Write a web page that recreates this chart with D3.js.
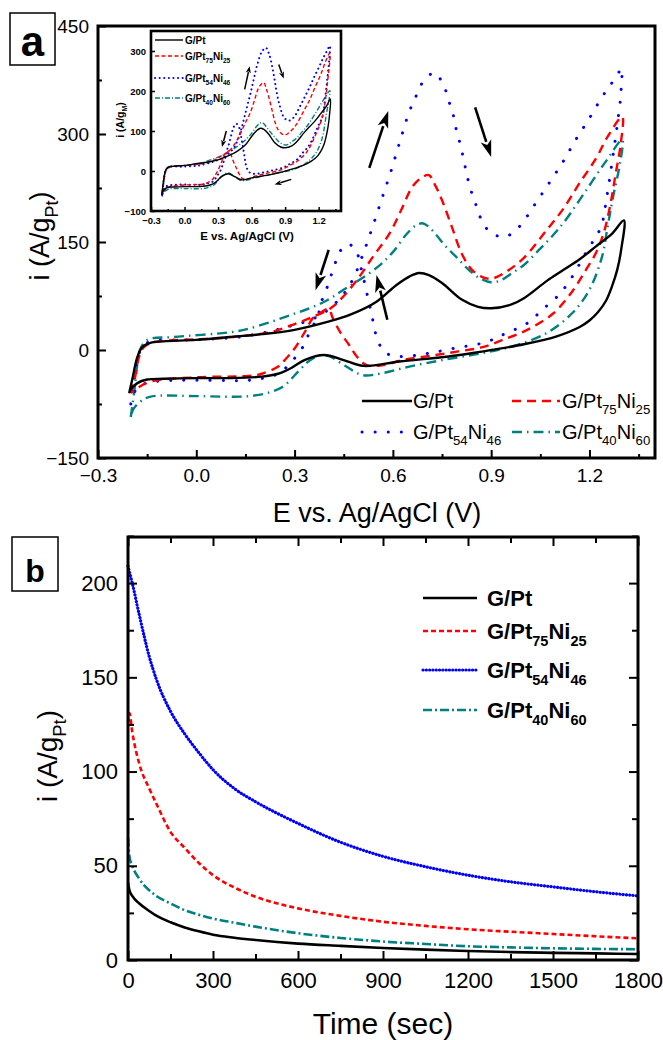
<!DOCTYPE html>
<html>
<head>
<meta charset="utf-8">
<script src="https://cdn.jsdelivr.net/npm/d3@7"></script>
<style>
  body { margin: 0; background: #fff; }
  svg text { font-family: "Liberation Sans", Arial, sans-serif; fill: #000; }
</style>
</head>
<body>
<svg id="fig" width="663" height="1040"></svg>
<script>
// ---------- data: panel a, cyclic voltammograms (E in V, i in A/g_Pt) ----------
// each array = forward scan followed by the reverse scan
const cvPt = [[-0.205,-60],[-0.195,-40],[-0.18,-10],[-0.165,4],[-0.14,10],[-0.1,12],[0,14],[0.1,18],[0.2,22],[0.3,28],[0.4,39],[0.47,49],[0.55,67],[0.61,90],[0.65,102],[0.68,107],[0.71,104],[0.75,93],[0.81,70],[0.86,60],[0.9,58],[0.96,63],[1.0,72],[1.07,96],[1.12,111],[1.17,126],[1.22,144],[1.27,162],[1.305,180],
  [1.297,140],[1.285,112],[1.27,90],[1.25,68],[1.225,52],[1.2,41],[1.17,32],[1.1,19],[1.0,8],[0.9,0],[0.86,-3],[0.77,-9],[0.62,-16],[0.51,-22],[0.45,-14],[0.39,-7],[0.33,-14],[0.29,-25],[0.25,-33],[0.2,-37],[0.1,-39],[0,-39],[-0.1,-40],[-0.15,-41],[-0.18,-46],[-0.2,-55],[-0.205,-60]];
const cvPt75 = [[-0.2,-60],[-0.19,-45],[-0.175,-10],[-0.16,4],[-0.13,11],[-0.09,13],[0,15],[0.06,16],[0.15,20],[0.23,25],[0.3,36],[0.35,45],[0.41,58],[0.45,75],[0.49,97],[0.54,130],[0.59,162],[0.625,194],[0.66,227],[0.69,240],[0.71,243],[0.73,228],[0.75,208],[0.78,171],[0.81,134],[0.84,112],[0.87,102],[0.9,99],[0.94,107],[1.0,128],[1.07,167],[1.12,196],[1.17,232],[1.22,266],[1.255,296],[1.3,324],
  [1.295,285],[1.28,245],[1.265,205],[1.245,165],[1.22,135],[1.19,112],[1.15,83],[1.09,51],[1.01,28],[0.935,14],[0.874,4],[0.8,-2],[0.73,-7],[0.63,-14],[0.57,-21],[0.52,-21],[0.49,-9],[0.465,8],[0.44,24],[0.415,46],[0.405,57],[0.38,52],[0.355,44],[0.335,28],[0.3,2],[0.27,-14],[0.25,-23],[0.2,-33],[0.16,-36],[0,-38],[-0.14,-44],[-0.19,-56],[-0.2,-60]];
const cvPt54 = [[-0.2,-75],[-0.19,-40],[-0.175,-5],[-0.16,6],[-0.14,12],[-0.03,14],[0.13,18],[0.245,28],[0.3,35],[0.35,42],[0.4,55],[0.45,78],[0.48,100],[0.508,132],[0.538,171],[0.567,211],[0.596,251],[0.623,292],[0.65,331],[0.669,351],[0.69,371],[0.727,385],[0.757,365],[0.772,344],[0.785,325],[0.794,305],[0.806,285],[0.816,265],[0.825,245],[0.836,225],[0.851,205],[0.866,185],[0.894,165],[0.94,157],[0.985,171],[1.03,200],[1.077,232],[1.12,262],[1.158,292],[1.2,322],[1.238,351],[1.27,372],[1.3,391],
  [1.298,375],[1.295,351],[1.284,310],[1.27,264],[1.253,213],[1.235,171],[1.19,136],[1.138,95],[1.101,74],[1.056,56],[1.016,39],[0.97,28],[0.924,19],[0.885,11],[0.794,3],[0.702,-5],[0.62,-9],[0.575,-3],[0.55,19],[0.535,50],[0.52,80],[0.505,110],[0.49,135],[0.465,147],[0.44,138],[0.42,115],[0.4,88],[0.382,67],[0.37,46],[0.346,25],[0.325,4],[0.295,-14],[0.254,-32],[0.215,-38],[0.16,-42],[-0.05,-42],[-0.142,-45],[-0.18,-52],[-0.2,-75]];
const cvPt40 = [[-0.2,-93],[-0.19,-60],[-0.18,-20],[-0.172,0],[-0.15,14],[-0.07,18],[0.11,25],[0.163,30],[0.285,48],[0.386,66],[0.458,86],[0.55,114],[0.6,136],[0.64,160],[0.67,173],[0.69,176],[0.71,171],[0.732,160],[0.763,143],[0.794,129],[0.83,112],[0.864,100],[0.9,94],[0.93,97],[0.964,107],[1.0,118],[1.046,139],[1.09,160],[1.128,181],[1.19,222],[1.25,262],[1.3,292],
  [1.295,264],[1.27,208],[1.255,170],[1.238,129],[1.199,83],[1.147,51],[1.067,23],[0.964,5],[0.864,-5],[0.751,-14],[0.65,-23],[0.57,-32],[0.508,-35],[0.458,-23],[0.407,-9],[0.38,-7],[0.345,-15],[0.315,-28],[0.264,-51],[0.214,-60],[0.163,-64],[0.111,-65],[0,-64],[-0.142,-65],[-0.172,-72],[-0.193,-83],[-0.2,-93]];

// inset: same scans normalised per gram of metal (A/g_M); G/Pt is unchanged
const insPt75 = [[-0.2,-55],[-0.175,-9],[-0.16,4],[-0.13,10],[0,14],[0.15,18],[0.23,23],[0.3,33],[0.35,41],[0.41,53],[0.45,68],[0.49,88],[0.54,118],[0.59,147],[0.625,176],[0.66,206],[0.69,218],[0.71,221],[0.73,207],[0.75,189],[0.78,156],[0.81,122],[0.84,102],[0.87,93],[0.9,90],[0.94,97],[1.0,116],[1.07,152],[1.12,178],[1.17,211],[1.22,242],[1.255,269],[1.3,295],
  [1.28,223],[1.265,187],[1.245,150],[1.22,123],[1.19,102],[1.15,76],[1.09,46],[1.01,25],[0.935,13],[0.874,4],[0.8,-2],[0.73,-6],[0.63,-13],[0.57,-19],[0.52,-19],[0.49,-8],[0.465,7],[0.44,22],[0.415,42],[0.405,52],[0.38,47],[0.355,40],[0.335,25],[0.3,2],[0.27,-13],[0.25,-21],[0.2,-30],[0.16,-33],[0,-35],[-0.14,-40],[-0.19,-51],[-0.2,-55]];
const insPt54 = [[-0.2,-60],[-0.175,-4],[-0.16,5],[-0.14,10],[0,11],[0.13,14],[0.245,22],[0.3,28],[0.35,34],[0.4,44],[0.45,62],[0.48,80],[0.508,105],[0.538,137],[0.567,169],[0.596,201],[0.623,234],[0.65,265],[0.69,297],[0.727,308],[0.757,292],[0.785,260],[0.806,228],[0.825,196],[0.851,164],[0.894,132],[0.94,126],[0.985,137],[1.03,160],[1.077,186],[1.12,210],[1.158,234],[1.2,258],[1.238,281],[1.27,298],[1.3,313],
  [1.295,281],[1.284,248],[1.27,211],[1.253,170],[1.235,137],[1.19,109],[1.138,76],[1.101,59],[1.056,45],[1.016,31],[0.97,22],[0.924,15],[0.885,9],[0.794,2],[0.702,-4],[0.62,-7],[0.575,-2],[0.55,15],[0.535,40],[0.52,64],[0.505,88],[0.49,108],[0.465,118],[0.44,110],[0.42,92],[0.4,70],[0.382,54],[0.37,37],[0.346,20],[0.325,3],[0.295,-11],[0.254,-26],[0.215,-30],[0.16,-34],[-0.05,-34],[-0.142,-36],[-0.18,-42],[-0.2,-60]];
const insPt40 = [[-0.2,-64],[-0.18,-14],[-0.172,0],[-0.15,10],[-0.07,12],[0.11,17],[0.163,21],[0.285,33],[0.386,46],[0.458,59],[0.55,79],[0.6,94],[0.64,110],[0.67,119],[0.69,121],[0.71,118],[0.732,110],[0.763,99],[0.794,89],[0.83,77],[0.864,69],[0.9,65],[0.93,67],[0.964,74],[1.0,81],[1.046,96],[1.09,110],[1.128,125],[1.19,153],[1.25,181],[1.3,201],
  [1.295,182],[1.27,144],[1.255,117],[1.238,89],[1.199,57],[1.147,35],[1.067,16],[0.964,3],[0.864,-3],[0.751,-10],[0.65,-16],[0.57,-22],[0.508,-24],[0.458,-16],[0.407,-6],[0.38,-5],[0.345,-10],[0.315,-19],[0.264,-35],[0.214,-41],[0.163,-44],[0,-44],[-0.142,-45],[-0.172,-50],[-0.193,-57],[-0.2,-64]];

// scan-direction arrows [E1, i1, E2, i2] (tail -> head)
const cvArrows  = [[0.528,253,0.586,332],[0.851,337,0.9,268],[0.404,139,0.364,83],[0.583,42,0.55,104]];
const insArrows = [[0.538,204,0.583,262],[0.843,266,0.888,231],[0.374,100,0.335,60],[0.955,-21,0.806,-34]];

// ---------- data: panel b, chronoamperometry ----------
const timeSec = [0,5,15,40,75,100,150,200,250,300,375,450,600,750,900,1050,1200,1350,1500,1650,1800];
const caPt   = [41,37,34,30,26,23.5,20,17.3,15.2,13.4,11.8,10.6,8.7,7.5,6.4,5.5,4.8,4.2,3.8,3.5,3.2];
const caPt75 = [126,131,121,104,91,83,68,59.5,51.5,45,38.5,33.6,27.4,23.4,20.3,18.1,16.3,15,13.8,12.6,11.5];
const caPt54 = [209,206,200,183,161,149,132,120,110,101,91,84,72.5,62.5,55,49.5,45,41.5,38.8,36.2,34];
const caPt40 = [65,55,50,43,37,34,30,26.5,24,22,19.8,17.7,14.2,11.7,9.8,8.5,7.3,6.7,6.2,5.9,5.7];

// ---------- labels / ticks ----------
const seriesLabels = ['G/Pt', 'G/Pt{75}Ni{25}', 'G/Pt{54}Ni{46}', 'G/Pt{40}Ni{60}'];
const seriesColors = ['#000000', '#ff0000', '#0000ff', '#008080'];
const aYMajor = [-150, 0, 150, 300, 450];
const aYMinor = [-75, 75, 225, 375];
const aXMajor = [-0.3, 0, 0.3, 0.6, 0.9, 1.2];
const aXMinor = [-0.15, 0.15, 0.45, 0.75, 1.05, 1.35];
const insYMajor = [-100, 0, 100, 200, 300];
const insXMajor = [-0.3, 0, 0.3, 0.6, 0.9, 1.2];
const insXMinor = [-0.15, 0.15, 0.45, 0.75, 1.05, 1.35];
const bYMajor = [0, 50, 100, 150, 200];
const bYMinor = [25, 75, 125, 175, 225];
const bXMajor = [0, 300, 600, 900, 1200, 1500, 1800];
const bXMinor = [150, 450, 750, 1050, 1350, 1650];

const FONT = '"Liberation Sans", Arial, sans-serif';
const svg = d3.select('#fig');

/* ------------------------------------------------------------------ */
/*  Helpers                                                            */
/* ------------------------------------------------------------------ */

// text with {subscript} parts
function subText(sel, str, size) {
  const parts = str.split(/\{([^}]*)\}/);
  let shift = 0;
  parts.forEach((p, i) => {
    if (p === '') return;
    const isSub = i % 2 === 1;
    const target = isSub ? size * 0.32 : 0;
    sel.append('tspan')
      .attr('dy', target - shift)
      .attr('font-size', isSub ? size * 0.66 : size)
      .text(p);
    shift = target;
  });
  return sel;
}

function styleAxis(g, size, weight) {
  g.select('.domain').remove();
  g.selectAll('line').attr('stroke', '#000').attr('stroke-width', 2);
  g.selectAll('text').attr('font-size', size).attr('font-family', FONT)
    .attr('font-weight', weight || 'normal').attr('fill', '#000');
}

function arrow(g, x1, y1, x2, y2, w, hl, hw) {
  const dx = x2 - x1, dy = y2 - y1, len = Math.hypot(dx, dy);
  const ux = dx / len, uy = dy / len;
  const bx = x2 - ux * hl, by = y2 - uy * hl;
  g.append('line').attr('x1', x1).attr('y1', y1).attr('x2', bx + ux).attr('y2', by + uy)
    .attr('stroke', '#000').attr('stroke-width', w);
  g.append('path')
    .attr('d', `M${x2},${y2}L${bx - uy * hw},${by + ux * hw}L${bx + ux * hl * 0.25},${by + uy * hl * 0.25}L${bx + uy * hw},${by - ux * hw}Z`)
    .attr('fill', '#000');
}

function dashStyle(sel, i, kind) {
  const w = kind === 'inset' ? 1.4 : (kind === 'b' ? 2.6 : 2.4);
  const dashes = {
    a: [null, '9,6', '0.1,13', '10,5,1.5,5'],
    b: [null, '5,3', '0.1,3.2', '9,3,2,3'],
    inset: [null, '4,2.5', '0.1,4.5', '5,2,1,2']
  }[kind];
  sel.attr('fill', 'none').attr('stroke', seriesColors[i]).attr('stroke-width', i === 2 ? w + 0.6 : w)
    .attr('stroke-dasharray', dashes[i]).attr('stroke-linecap', i === 2 ? 'round' : 'butt');
}

/* ------------------------------------------------------------------ */
/*  Panel a                                                            */
/* ------------------------------------------------------------------ */

const xA = d3.scaleLinear().domain([-0.3, 1.4]).range([98, 655]);
const yA = d3.scaleLinear().domain([-150, 450]).range([458, 26]);
const gA = svg.append('g');

const lineA = d3.line().x(d => xA(d[0])).y(d => yA(d[1])).curve(d3.curveCatmullRom.alpha(0.5));
const cvSeries = [cvPt, cvPt75, cvPt54, cvPt40];
[3, 2, 1, 0].forEach(i => {
  gA.append('path').attr('d', lineA(cvSeries[i])).call(dashStyle, i, 'a');
});

cvArrows.forEach(a => arrow(gA, xA(a[0]), yA(a[1]), xA(a[2]), yA(a[3]), 2.6, 17, 5.5));

// axes
gA.append('g').attr('transform', 'translate(98,0)')
  .call(d3.axisLeft(yA).tickValues(aYMajor).tickSize(-8).tickPadding(9).tickFormat(d3.format('d')))
  .call(styleAxis, 19);
gA.append('g').attr('transform', 'translate(98,0)')
  .call(d3.axisLeft(yA).tickValues(aYMinor).tickSize(-4).tickFormat(''))
  .call(styleAxis, 19);
gA.append('g').attr('transform', 'translate(0,458)')
  .call(d3.axisBottom(xA).tickValues(aXMajor).tickSize(-8).tickPadding(11).tickFormat(d3.format('.1f')))
  .call(styleAxis, 19);
gA.append('g').attr('transform', 'translate(0,458)')
  .call(d3.axisBottom(xA).tickValues(aXMinor).tickSize(-4).tickFormat(''))
  .call(styleAxis, 19);
gA.append('rect').attr('x', 98).attr('y', 26).attr('width', 557).attr('height', 432)
  .attr('fill', 'none').attr('stroke', '#000').attr('stroke-width', 3);

gA.append('text').attr('x', 377).attr('y', 522).attr('text-anchor', 'middle')
  .attr('font-size', 27).text('E vs. Ag/AgCl (V)');
subText(gA.append('text').attr('transform', 'translate(49,236) rotate(-90)')
  .attr('text-anchor', 'middle'), 'i (A/g{Pt})', 27);

// legend (2 x 2)
const legA = [[362, 401], [512, 401], [362, 432], [512, 432]];
[0, 1, 2, 3].forEach((s, k) => {
  const [lx, ly] = legA[k];
  const len = k % 2 === 0 ? 50 : 48;
  gA.append('line').attr('x1', lx).attr('x2', lx + len).attr('y1', ly).attr('y2', ly).call(dashStyle, s, 'a');
  subText(gA.append('text').attr('x', k % 2 === 0 ? 413 : 562).attr('y', ly + 7), seriesLabels[s], 20);
});

// panel label
gA.append('rect').attr('x', 10).attr('y', 13).attr('width', 45).attr('height', 52)
  .attr('fill', '#fff').attr('stroke', '#000').attr('stroke-width', 1.5);
gA.append('text').attr('x', 32.5).attr('y', 56).attr('text-anchor', 'middle')
  .attr('font-size', 42).attr('font-weight', 'bold').text('a');

/* ------------------------------------------------------------------ */
/*  Inset                                                              */
/* ------------------------------------------------------------------ */

const xI = d3.scaleLinear().domain([-0.3, 1.4]).range([151, 341]);
const yI = d3.scaleLinear().domain([-100, 350]).range([211, 31]);
const gI = svg.append('g');
gI.append('rect').attr('x', 151).attr('y', 31).attr('width', 190).attr('height', 180).attr('fill', '#fff');

const lineI = d3.line().x(d => xI(d[0])).y(d => yI(d[1])).curve(d3.curveCatmullRom.alpha(0.5));
const insSeries = [cvPt, insPt75, insPt54, insPt40];
[3, 2, 1, 0].forEach(i => {
  gI.append('path').attr('d', lineI(insSeries[i])).call(dashStyle, i, 'inset');
});
insArrows.forEach(a => arrow(gI, xI(a[0]), yI(a[1]), xI(a[2]), yI(a[3]), 1.3, 7, 2.6));

gI.append('g').attr('transform', 'translate(151,0)')
  .call(d3.axisLeft(yI).tickValues(insYMajor).tickSize(-4).tickPadding(5).tickFormat(d3.format('d')))
  .call(styleAxis, 9.5, 'bold');
gI.append('g').attr('transform', 'translate(0,211)')
  .call(d3.axisBottom(xI).tickValues(insXMajor).tickSize(-4).tickPadding(6).tickFormat(d3.format('.1f')))
  .call(styleAxis, 9.5, 'bold');
gI.append('g').attr('transform', 'translate(0,211)')
  .call(d3.axisBottom(xI).tickValues(insXMinor).tickSize(-2).tickFormat(''))
  .call(styleAxis, 9.5);
gI.selectAll('line').attr('stroke-width', 1.5);
gI.append('rect').attr('x', 151).attr('y', 31).attr('width', 190).attr('height', 180)
  .attr('fill', 'none').attr('stroke', '#000').attr('stroke-width', 2.6);

gI.append('text').attr('x', 247).attr('y', 240).attr('text-anchor', 'middle')
  .attr('font-size', 11.5).attr('font-weight', 'bold').text('E vs. Ag/AgCl (V)');
subText(gI.append('text').attr('transform', 'translate(124,120) rotate(-90)')
  .attr('text-anchor', 'middle').attr('font-weight', 'bold'), 'i (A/g{M})', 10.5);

const legIY = [40, 56, 78, 98];
seriesLabels.forEach((lab, i) => {
  gI.append('line').attr('x1', 155).attr('x2', 183).attr('y1', legIY[i]).attr('y2', legIY[i]).call(dashStyle, i, 'inset');
  subText(gI.append('text').attr('x', 185).attr('y', legIY[i] + 3.6).attr('font-weight', 'bold'), lab, 10);
});

/* ------------------------------------------------------------------ */
/*  Panel b                                                            */
/* ------------------------------------------------------------------ */

const xB = d3.scaleLinear().domain([0, 1800]).range([128, 638]);
const yB = d3.scaleLinear().domain([0, 225]).range([960, 536]);
const gB = svg.append('g');

const caSeries = [caPt, caPt75, caPt54, caPt40];
const lineB = d3.line().x((d, k) => xB(timeSec[k])).y(d => yB(d)).curve(d3.curveMonotoneX);
[3, 2, 1, 0].forEach(i => {
  gB.append('path').attr('d', lineB(caSeries[i])).call(dashStyle, i, 'b');
});

gB.append('g').attr('transform', 'translate(128,0)')
  .call(d3.axisLeft(yB).tickValues(bYMajor).tickSize(-9).tickPadding(10).tickFormat(d3.format('d')))
  .call(styleAxis, 22);
gB.append('g').attr('transform', 'translate(128,0)')
  .call(d3.axisLeft(yB).tickValues(bYMinor).tickSize(-6).tickFormat(''))
  .call(styleAxis, 22);
gB.append('g').attr('transform', 'translate(638,0)')
  .call(d3.axisRight(yB).tickValues(bYMajor).tickSize(-9).tickFormat(''))
  .call(styleAxis, 22);
gB.append('g').attr('transform', 'translate(638,0)')
  .call(d3.axisRight(yB).tickValues(bYMinor).tickSize(-6).tickFormat(''))
  .call(styleAxis, 22);
gB.append('g').attr('transform', 'translate(0,960)')
  .call(d3.axisBottom(xB).tickValues(bXMajor).tickSize(-9).tickPadding(12).tickFormat(d3.format('d')))
  .call(styleAxis, 22);
gB.append('g').attr('transform', 'translate(0,960)')
  .call(d3.axisBottom(xB).tickValues(bXMinor).tickSize(-6).tickFormat(''))
  .call(styleAxis, 22);
gB.append('g').attr('transform', 'translate(0,537)')
  .call(d3.axisTop(xB).tickValues(bXMajor).tickSize(-9).tickFormat(''))
  .call(styleAxis, 22);
gB.append('g').attr('transform', 'translate(0,537)')
  .call(d3.axisTop(xB).tickValues(bXMinor).tickSize(-6).tickFormat(''))
  .call(styleAxis, 22);
gB.append('rect').attr('x', 128).attr('y', 537).attr('width', 510).attr('height', 423)
  .attr('fill', 'none').attr('stroke', '#000').attr('stroke-width', 3);

gB.append('text').attr('x', 383).attr('y', 1034).attr('text-anchor', 'middle')
  .attr('font-size', 30).text('Time (sec)');
subText(gB.append('text').attr('transform', 'translate(57,756) rotate(-90)')
  .attr('text-anchor', 'middle'), 'i (A/g{Pt})', 28);

const legBY = [598, 631, 670, 710];
seriesLabels.forEach((lab, i) => {
  gB.append('line').attr('x1', 423).attr('x2', 477).attr('y1', legBY[i]).attr('y2', legBY[i]).call(dashStyle, i, 'b');
  subText(gB.append('text').attr('x', 487).attr('y', legBY[i] + 8).attr('font-weight', 'bold'), lab, 22);
});

gB.append('rect').attr('x', 12).attr('y', 537).attr('width', 46).attr('height', 54)
  .attr('fill', '#fff').attr('stroke', '#000').attr('stroke-width', 1.5);
gB.append('text').attr('x', 35).attr('y', 582).attr('text-anchor', 'middle')
  .attr('font-size', 32).attr('font-weight', 'bold').text('b');
</script>
</body>
</html>
